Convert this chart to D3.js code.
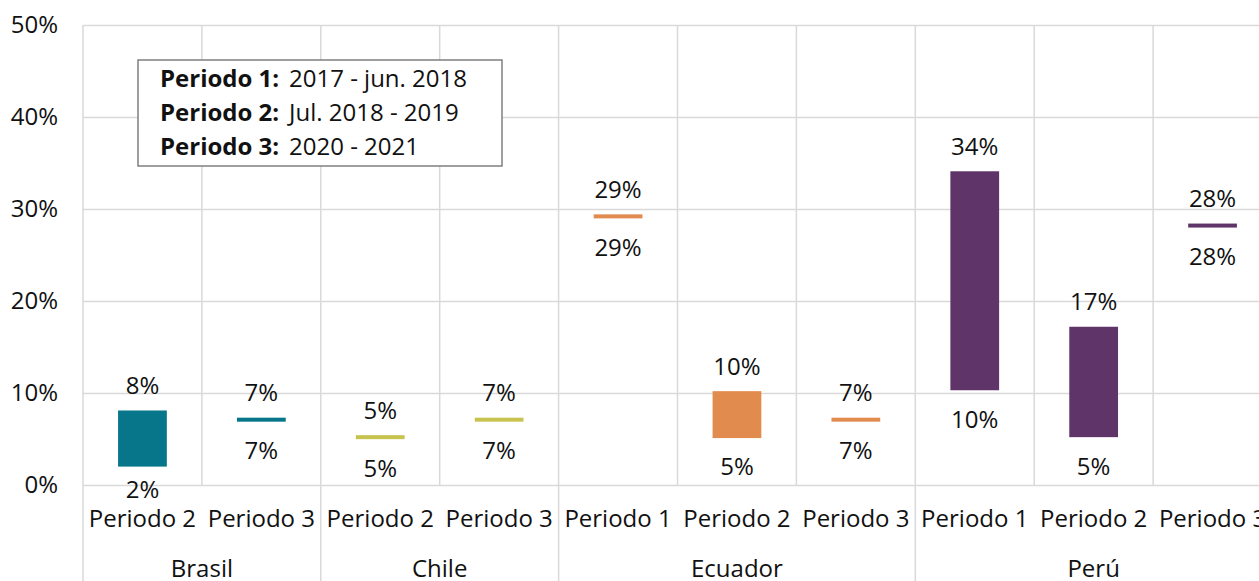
<!DOCTYPE html>
<html>
<head>
<meta charset="utf-8">
<script src="https://cdn.jsdelivr.net/npm/d3@7.9.0/dist/d3.min.js"></script>
<style>
  body { margin: 0; background: #fff; }
  svg { display: block; font-family: "Open Sans", "Noto Sans", sans-serif; }
  .grid line { stroke: #d9d9d9; stroke-width: 1.5; }
  .grid .domain { display: none; }
  .lbl { font-size: 24px; fill: #111; }
</style>
</head>
<body>
<div id="chart"></div>
<script>
// one entry per column
const countryOf = ["Brasil", "Brasil", "Chile", "Chile", "Ecuador", "Ecuador", "Ecuador", "Perú", "Perú", "Perú"];
const periodOf = ["Periodo 2", "Periodo 3", "Periodo 2", "Periodo 3", "Periodo 1", "Periodo 2", "Periodo 3", "Periodo 1", "Periodo 2", "Periodo 3"];
const lowValues = [0.020, 0.071, 0.052, 0.071, 0.292, 0.051, 0.071, 0.103, 0.052, 0.282];
const highValues = [0.081, 0.071, 0.052, 0.071, 0.292, 0.102, 0.071, 0.341, 0.172, 0.282];

const countries = ["Brasil", "Chile", "Ecuador", "Perú"];
const countryColors = ["#07768a", "#c8c34f", "#e28b4f", "#5e3469"];
const yTicks = [0, 0.1, 0.2, 0.3, 0.4, 0.5];

const legendBold = ["Periodo 1:", "Periodo 2:", "Periodo 3:"];
const legendText = ["2017 - jun. 2018", "Jul. 2018 - 2019", "2020 - 2021"];

const width = 1259, height = 581;
const margin = { top: 25, left: 83, plotRight: 1272, plotBottom: 485 };

const svg = d3.select("#chart").append("svg")
    .attr("width", width)
    .attr("height", height);

const keys = countryOf.map((c, i) => c + "|" + periodOf[i]);

const x = d3.scaleBand()
    .domain(keys)
    .range([margin.left, margin.plotRight])
    .padding(0);

const y = d3.scaleLinear()
    .domain([0, 0.5])
    .range([margin.plotBottom, margin.top]);

const color = d3.scaleOrdinal().domain(countries).range(countryColors);

// horizontal grid + y labels
const yAxis = svg.append("g")
    .attr("class", "grid")
    .attr("transform", `translate(${margin.left},0)`)
    .call(d3.axisLeft(y)
        .tickValues(yTicks)
        .tickSize(-(margin.plotRight - margin.left))
        .tickPadding(25)
        .tickFormat(d3.format(".0%")));
yAxis.selectAll("text")
    .attr("class", "lbl")
    .style("font-family", null)
    .attr("font-size", null);
yAxis.attr("font-size", null).attr("font-family", null);

// vertical grid lines inside plot
const bounds = keys.map(k => x(k)).concat([margin.plotRight]);
svg.append("g").attr("class", "grid")
    .selectAll("line")
    .data(bounds)
    .enter().append("line")
    .attr("x1", d => d).attr("x2", d => d)
    .attr("y1", margin.top).attr("y2", margin.plotBottom);

// group separators below the axis
const groupStarts = countries.map(c => x(keys[countryOf.indexOf(c)]));
svg.append("g").attr("class", "grid")
    .selectAll("line")
    .data(groupStarts)
    .enter().append("line")
    .attr("x1", d => d).attr("x2", d => d)
    .attr("y1", margin.plotBottom).attr("y2", height);

// period labels
svg.append("g")
    .selectAll("text")
    .data(keys)
    .enter().append("text")
    .attr("class", "lbl")
    .attr("x", d => x(d) + x.bandwidth() / 2)
    .attr("y", 519)
    .attr("dy", "0.35em")
    .attr("text-anchor", "middle")
    .text(d => d.split("|")[1]);

// country labels
svg.append("g")
    .selectAll("text")
    .data(countries)
    .enter().append("text")
    .attr("class", "lbl")
    .attr("x", c => {
        const ks = keys.filter((k, i) => countryOf[i] === c);
        return (x(ks[0]) + x(ks[ks.length - 1]) + x.bandwidth()) / 2;
    })
    .attr("y", 569)
    .attr("dy", "0.35em")
    .attr("text-anchor", "middle")
    .text(c => c);

// floating range bars
const barW = x.bandwidth() * 0.41;
const minH = 4;
const rows = keys.map((k, i) => ({ key: k, country: countryOf[i], lo: lowValues[i], hi: highValues[i] }));

const bars = svg.append("g");
bars.selectAll("rect")
    .data(rows)
    .enter().append("rect")
    .attr("x", d => x(d.key) + (x.bandwidth() - barW) / 2)
    .attr("width", barW)
    .attr("y", d => {
        const h = y(d.lo) - y(d.hi);
        return h < minH ? (y(d.lo) + y(d.hi)) / 2 - minH / 2 : y(d.hi);
    })
    .attr("height", d => Math.max(minH, y(d.lo) - y(d.hi)))
    .style("fill", d => color(d.country));

const fmt = d3.format(".0%");
function topOf(d) { return Math.min(y(d.hi), (y(d.lo) + y(d.hi)) / 2 - minH / 2); }
function botOf(d) { return Math.max(y(d.lo), (y(d.lo) + y(d.hi)) / 2 + minH / 2); }

bars.selectAll(".hi")
    .data(rows)
    .enter().append("text")
    .attr("class", "lbl hi")
    .attr("x", d => x(d.key) + x.bandwidth() / 2)
    .attr("y", d => topOf(d) - 25)
    .attr("dy", "0.35em")
    .attr("text-anchor", "middle")
    .text(d => fmt(d.hi));

// low labels are kept close to the plot bottom
bars.selectAll(".lo")
    .data(rows)
    .enter().append("text")
    .attr("class", "lbl lo")
    .attr("x", d => x(d.key) + x.bandwidth() / 2)
    .attr("y", d => Math.min(botOf(d) + 29, margin.plotBottom + 5))
    .attr("dy", "0.35em")
    .attr("text-anchor", "middle")
    .text(d => fmt(d.lo));

// period legend box
const legend = svg.append("g").attr("transform", "translate(138,60)");
legend.append("rect")
    .attr("width", 364)
    .attr("height", 106)
    .style("fill", "#fff")
    .style("stroke", "#7f7f7f")
    .style("stroke-width", 1.5);

legend.selectAll(".lb")
    .data(legendBold)
    .enter().append("text")
    .attr("class", "lbl lb")
    .attr("x", 22)
    .attr("y", (d, i) => 19 + i * 34)
    .attr("dy", "0.35em")
    .style("font-weight", "bold")
    .text(d => d);

legend.selectAll(".lt")
    .data(legendText)
    .enter().append("text")
    .attr("class", "lbl lt")
    .attr("x", 151)
    .attr("y", (d, i) => 19 + i * 34)
    .attr("dy", "0.35em")
    .text(d => d);
</script>
</body>
</html>
